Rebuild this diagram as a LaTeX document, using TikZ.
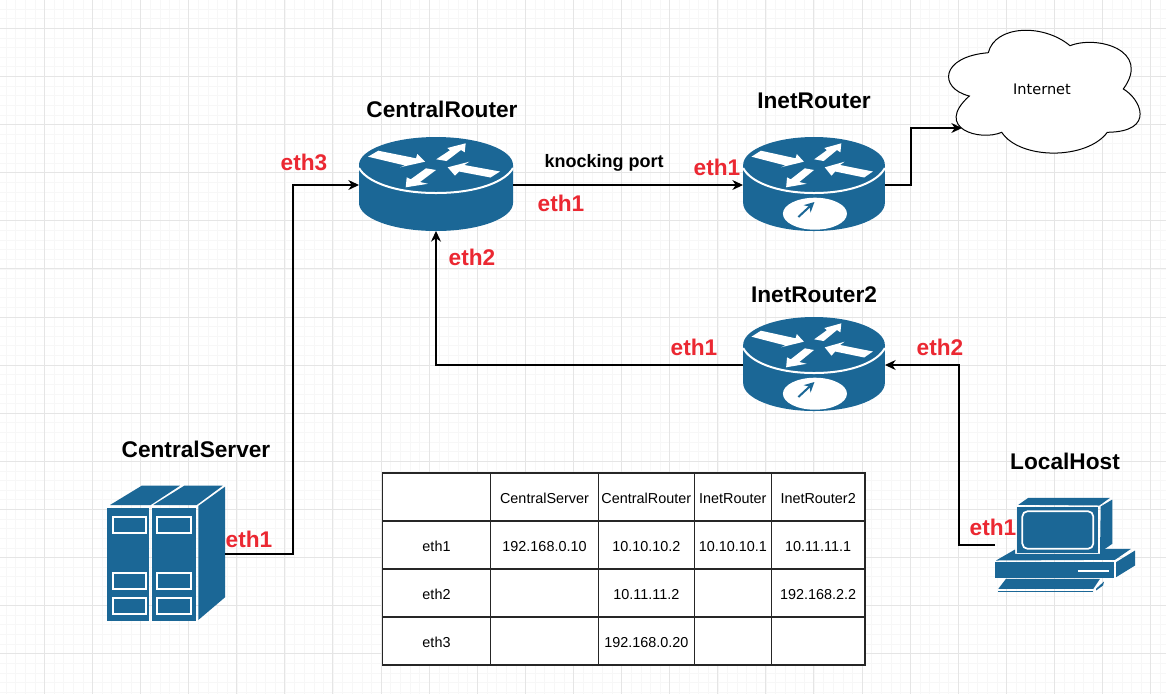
\documentclass[tikz,border=0pt]{standalone}
\usepackage{fontspec}
\setmainfont{Liberation Sans}
\newfontfamily\cloudfont{DejaVu Sans}
\usetikzlibrary{arrows.meta,positioning}
\definecolor{iconblue}{RGB}{27,103,150}
\definecolor{ethred}{RGB}{235,40,50}
\tikzset{
    iconbox/.style={rectangle,inner sep=0pt,outer sep=0pt},
    hostname/.style={inner sep=0pt,font=\fontsize{17}{17}\bfseries\selectfont},
    ethlabel/.style={inner sep=0pt,text=ethred,font=\fontsize{17}{17}\bfseries\selectfont},
    conn/.style={line width=0.8pt,black,-{Stealth[length=8pt,width=7.5pt]}},
    cell/.style={rectangle,draw=black!85,line width=0.9pt,fill=white,inner sep=0pt,outer sep=0pt,minimum height=36pt,text height=9pt,text depth=0pt,font=\fontsize{10.8}{11}\selectfont},
    colhead/.style={cell,minimum width=81.3pt},
    colserver/.style={cell,minimum width=80.7pt},
    colcentral/.style={cell,minimum width=72pt},
    colinet/.style={cell,minimum width=57.75pt},
    colinettwo/.style={cell,minimum width=70.3pt},
    routerpic/.pic={
        \fill[iconblue] (-77,-20) .. controls (-77,-35.5) and (-42.5,-48) .. (0,-48)
            .. controls (42.5,-48) and (77,-35.5) .. (77,-20) -- (77,18)
            .. controls (77,33.5) and (42.5,46) .. (0,46)
            .. controls (-42.5,46) and (-77,33.5) .. (-77,18) -- cycle;
        \draw[white,line width=1.5pt] (-77,-17) .. controls (-70,-4) and (-42.5,8) .. (0,8)
            .. controls (42.5,8) and (70,-4) .. (77,-17);
        \fill[white] (-57.7,-34.3) -- (-20,-26.7) -- (-18.7,-31) -- (-11,-23.3) -- (-36,-17.7) -- (-31,-19.5) -- (-68,-28.3) -- cycle;
        \fill[white] (0.2,-25.7) -- (14,-34.8) -- (11.3,-37) -- (29.7,-41.7) -- (28.7,-32.7) -- (25,-35) -- (10.5,-24) -- cycle;
        \fill[white] (11.7,-17.7) -- (33.3,-23.3) -- (28.3,-20) -- (64,-13.5) -- (54.5,-7.5) -- (23,-13.5) -- (19,-9.3) -- cycle;
        \fill[white] (-30.3,2.3) -- (-29.3,-7.7) -- (-25.3,-5.7) -- (-10,-16.7) -- (0,-15) -- (-16,-3) -- (-8,-1.2) -- cycle;
    },
    gaugepic/.pic={
        \fill[white] (1,28.7) ellipse [x radius=34.8,y radius=16];
        \draw[iconblue,line width=1.5pt,-{Stealth[length=7.5pt,width=7.5pt]}] (-17,32) -- (0.5,17);
    },
    serverpic/.pic={
        \fill[iconblue] (-58.7,-46.3) rectangle (-16.7,67);
        \fill[iconblue] (-14,-46.3) rectangle (30,67);
        \fill[iconblue] (32.3,-48) -- (59,-67.3) -- (59,43.3) -- (32.3,66) -- cycle;
        \fill[iconblue] (-56,-49) -- (-24.3,-68.3) -- (14,-68.3) -- (-15.3,-49) -- cycle;
        \fill[iconblue] (-12.7,-49) -- (18.3,-68.3) -- (56.7,-68.3) -- (30.7,-49) -- cycle;
        \foreach \xa/\xb in {-53.3/-20.3,-8.7/24.7}
            \foreach \ya/\yb in {-37.3/-21.3,19.3/35,43.7/59.7}
                \draw[white,line width=1.4pt] (\xa,\ya) rectangle (\xb,\yb);
    },
    hostpic/.pic={
        \fill[iconblue] (-46.7,-40.2) -- (-36.7,-47.2) -- (45,-47.2) -- (34.3,-39.5) -- cycle;
        \fill[iconblue] (35.7,-38.5) -- (47.3,-45.5) -- (47.3,-1.2) -- (35,7.2) -- cycle;
        \fill[iconblue] (-48.3,-37.8) rectangle (33.3,8.2);
        \draw[white,line width=1.3pt,rounded corners=4pt] (-42.7,-33.8) rectangle (28.3,3.8);
        \fill[iconblue] (-69,15.5) -- (-50,4.5) -- (-50,8.8) -- (35,8.8) -- (35,3.8) -- (66,3.8) -- (50,14.8) -- cycle;
        \fill[iconblue] (-70,17.2) rectangle (49,32.8);
        \draw[white,line width=1.3pt] (12.7,25.8) -- (44,25.8);
        \fill[iconblue] (51,17.2) -- (70,5.5) -- (70,20.5) -- (51,32.2) -- cycle;
        \fill[iconblue] (-59,33.8) -- (35,33.8) -- (28.3,43.8) -- (-66.7,43.8) -- cycle;
        \fill[iconblue] (31,43.8) -- (39,36.5) -- (38,40.5) -- (31,45.5) -- cycle;
        \draw[iconblue,line width=0.9pt] (-66.7,46.5) -- (28.3,46.5);
    },
}
\begin{document}
\begin{tikzpicture}[x=0.75pt,y=-0.75pt]
    \useasboundingbox (0,0) rectangle (1166,694);
    \fill[white] (0,0) rectangle (1166,694);

    \foreach \i in {0,...,121} \draw[black!3,line width=0.5pt] ({6+9.62*\i},0) -- ({6+9.62*\i},694);
    \foreach \i in {0,...,72} \draw[black!3,line width=0.5pt] (0,{9.1+9.62*\i}) -- (1166,{9.1+9.62*\i});
    \foreach \i in {0,...,24} \draw[black!10,line width=0.6pt] ({44.2+48.1*\i},0) -- ({44.2+48.1*\i},694);
    \foreach \i in {0,...,14} \draw[black!10,line width=0.6pt] (0,{28.3+48.1*\i}) -- (1166,{28.3+48.1*\i});

    \node (crouter) [iconbox,minimum width=115.5pt,minimum height=69pt] at (436,185) {};
    \node (irouter) [iconbox,minimum width=106.5pt,minimum height=69pt] at (814,185) {};
    \node (irouter2) [iconbox,minimum width=106.5pt,minimum height=69pt] at (814,365) {};
    \node (cserver) [iconbox,minimum width=88.5pt,minimum height=102pt] at (166,554) {};
    \node (lhost) [iconbox,minimum width=105pt,minimum height=71pt] at (1065,545) {};
    \pic at (crouter.center) {routerpic};
    \pic[xscale=0.92] at (irouter.center) {routerpic};
    \pic[xscale=0.92] at (irouter.center) {gaugepic};
    \pic[xscale=0.92] at (irouter2.center) {routerpic};
    \pic[xscale=0.92] at (irouter2.center) {gaugepic};
    \pic at (cserver.center) {serverpic};
    \pic at (lhost.center) {hostpic};

    \draw[black,line width=0.75pt,fill=white] (988.3,52.7)
        .. controls (995,25) and (1043.3,23.3) .. (1070,45.7)
        .. controls (1096.7,35) and (1151.7,50) .. (1123.3,89)
        .. controls (1140,98.3) and (1156.7,131.7) .. (1107.3,132.3)
        .. controls (1086.7,160) and (1020,160) .. (1001.7,132.3)
        .. controls (980,141.7) and (933.3,128.3) .. (969.3,96)
        .. controls (938.3,88.3) and (940,56.7) .. (988.3,52.7);
    \node (inet) [inner sep=0pt,font=\cloudfont\fontsize{10.9}{11}\selectfont] at (1042,89) {Internet};
    \coordinate (cloudin) at (962,128);

    \node (crlabel) [hostname,above=15.5pt of crouter,xshift=4.5pt] {CentralRouter};
    \node (irlabel) [hostname,above=22.5pt of irouter] {InetRouter};
    \node (ir2label) [hostname,above=12pt of irouter2] {InetRouter2};
    \node (cslabel) [hostname,above=21pt of cserver,xshift=22.5pt] {CentralServer};
    \node (lhlabel) [hostname,above=20.5pt of lhost] {LocalHost};

    \node (knock) [inner sep=0pt,font=\fontsize{13.5}{14}\bfseries\selectfont] at (604,163) {knocking port};
    \node (eth3cr) [ethlabel] at (304,162) {eth3};
    \node (eth1cr) [ethlabel] at (561,203) {eth1};
    \node (eth2cr) [ethlabel] at (472,257) {eth2};
    \node (eth1ir) [ethlabel] at (717,167) {eth1};
    \node (eth1ir2) [ethlabel] at (694,347) {eth1};
    \node (eth2ir2) [ethlabel] at (940,347) {eth2};
    \node (eth1cs) [ethlabel] at (249,539) {eth1};
    \node (eth1lh) [ethlabel] at (993,527) {eth1};

    \coordinate (bendcs) at (293,185);
    \coordinate (bendir) at (911,128);
    \coordinate (bendlh) at (959,365);
    \draw[conn] (cserver.east) -| (bendcs) -- (crouter.west);
    \draw[conn] (crouter.east) -- (irouter.west);
    \draw[conn] (irouter.east) -| (bendir) -- (cloudin);
    \draw[conn] (irouter2.west) -| (crouter.south);
    \draw[conn] (lhost.west) -| (bendlh) -- (irouter2.east);

    \node (c00) [colhead] at (436.5,497) {};
    \node (c01) [colserver,right=0pt of c00] {CentralServer};
    \node (c02) [colcentral,right=0pt of c01] {CentralRouter};
    \node (c03) [colinet,right=0pt of c02] {InetRouter};
    \node (c04) [colinettwo,right=0pt of c03] {InetRouter2};
    \node (c10) [colhead,below=0pt of c00] {eth1};
    \node (c11) [colserver,right=0pt of c10] {192.168.0.10};
    \node (c12) [colcentral,right=0pt of c11] {10.10.10.2};
    \node (c13) [colinet,right=0pt of c12] {10.10.10.1};
    \node (c14) [colinettwo,right=0pt of c13] {10.11.11.1};
    \node (c20) [colhead,below=0pt of c10] {eth2};
    \node (c21) [colserver,right=0pt of c20] {};
    \node (c22) [colcentral,right=0pt of c21] {10.11.11.2};
    \node (c23) [colinet,right=0pt of c22] {};
    \node (c24) [colinettwo,right=0pt of c23] {192.168.2.2};
    \node (c30) [colhead,below=0pt of c20] {eth3};
    \node (c31) [colserver,right=0pt of c30] {};
    \node (c32) [colcentral,right=0pt of c31] {192.168.0.20};
    \node (c33) [colinet,right=0pt of c32] {};
    \node (c34) [colinettwo,right=0pt of c33] {};
\end{tikzpicture}
\end{document}
